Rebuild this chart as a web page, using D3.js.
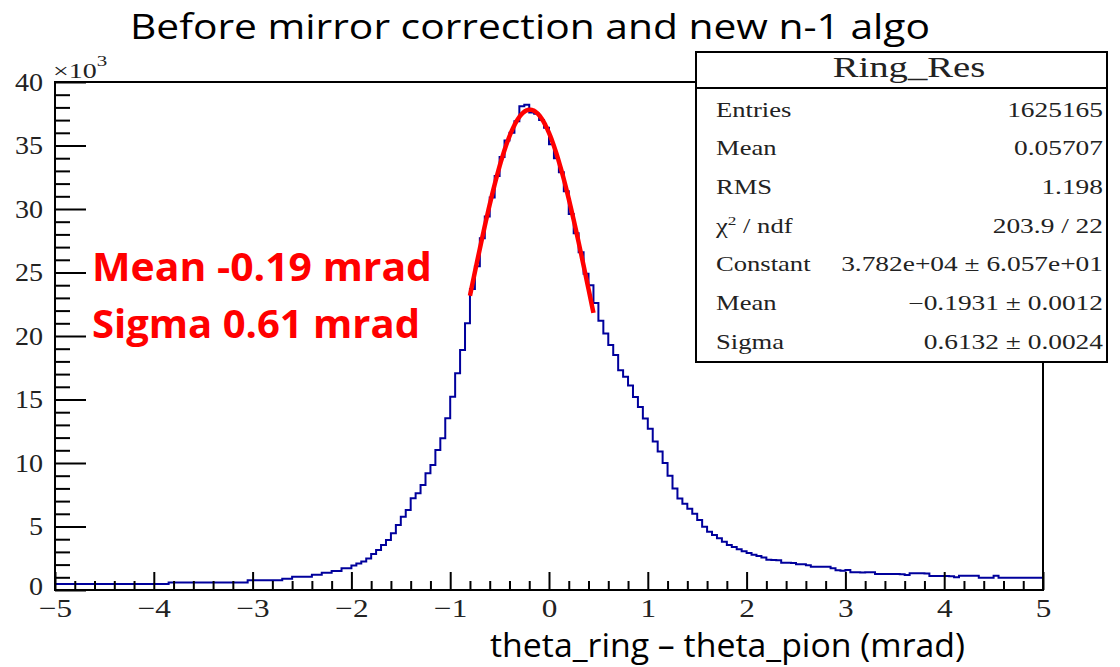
<!DOCTYPE html>
<html>
<head>
<meta charset="utf-8">
<script src="https://cdn.jsdelivr.net/npm/d3@7"></script>
<style>
  html, body { margin: 0; padding: 0; background: #fff; }
  svg { display: block; }
</style>
</head>
<body>
<svg id="chart" width="1120" height="667"></svg>
<script>
// ---- histogram definition: 200 bins from -5 to 5 mrad ----
const xMin = -5, xMax = 5, nBins = 200;

// entries per bin (bin i starts at -5 + 0.05*i)
const counts = [
  470, 470, 470, 470, 470, 470, 470, 470, 470, 470,
  470, 470, 470, 470, 470, 470, 470, 470, 470, 470,
  470, 470, 470, 600, 600, 600, 600, 600, 600, 600,
  600, 600, 600, 600, 600, 600, 600, 600, 600, 760,
  760, 760, 760, 760, 760, 760, 890, 890, 1050, 1050,
  1050, 1050, 1200, 1200, 1360, 1360, 1500, 1500, 1710, 1710,
  1920, 2080, 2240, 2490, 2830, 3150, 3540, 3940, 4460, 5120,
  5770, 6300, 7220, 7610, 8270, 9190, 9840, 11020, 11940, 13520,
  15220, 17060, 18900, 21000, 23700, 25500, 27700, 29400, 30900, 32600,
  34100, 35400, 36000, 36900, 38100, 38200, 37600, 37500, 37000, 36400,
  35100, 34000, 32900, 31400, 29600, 28100, 26600, 24900, 24000, 22600,
  21200, 20200, 19300, 18500, 17300, 16800, 16100, 15200, 14400, 13500,
  12700, 11700, 10900, 10000, 9000, 8000, 7200, 6800, 6400, 6000,
  5510, 4980, 4590, 4330, 4070, 3800, 3540, 3380, 3200, 3050,
  2920, 2780, 2680, 2550, 2380, 2360, 2340, 2150, 2150, 2120,
  2020, 2020, 1950, 1840, 1840, 1840, 1830, 1710, 1550, 1520,
  1570, 1400, 1400, 1380, 1390, 1390, 1260, 1260, 1260, 1260,
  1260, 1250, 1180, 1310, 1310, 1310, 1300, 1100, 1100, 1100,
  1100, 1090, 1000, 1130, 1130, 1130, 1120, 970, 970, 970,
  1130, 970, 970, 970, 970, 970, 970, 970, 970, 970
];

// Gaussian fit result and its range
const fitConstant = 37820;
const fitMean = -0.1931;
const fitSigma = 0.6132;
const fitRange = [-0.8, 0.45];

// axis ticks
const xMajorTicks = [-5, -4, -3, -2, -1, 0, 1, 2, 3, 4, 5];
const yMajorTicks = [0, 5000, 10000, 15000, 20000, 25000, 30000, 35000, 40000];

// texts
const chartTitle = "Before mirror correction and new n-1 algo";
const xAxisTitle = "theta_ring \u2013 theta_pion (mrad)";
const statsTitle = "Ring_Res";
const statsLabels = ["Entries", "Mean", "RMS", "\u03c7\u00b2 / ndf", "Constant", "Mean", "Sigma"];
const statsValues = ["1625165", "0.05707", "1.198", "203.9 / 22",
  "3.782e+04 \u00b1 6.057e+01", "\u22120.1931 \u00b1 0.0012", "0.6132 \u00b1 0.0024"];
const fitNotes = ["Mean -0.19 mrad", "Sigma 0.61 mrad"];

// ---- drawing ----
const svg = d3.select("#chart");
const frame = { left: 55, right: 1043, top: 82, bottom: 590 };

const x = d3.scaleLinear().domain([xMin, xMax]).range([frame.left, frame.right]);
const y = d3.scaleLinear().domain([0, 40000]).range([frame.bottom, frame.top]);

const serif = "'Liberation Serif', 'DejaVu Serif', serif";
const sans = "'Open Sans', 'Noto Sans', 'Liberation Sans', sans-serif";
const wide = 1.33;   // horizontal stretch of the canvas lettering

// histogram as a step outline
const binW = (xMax - xMin) / nBins;
const edges = d3.range(nBins + 1).map(i => xMin + i * binW);
const stepPts = counts.map((c, i) => [edges[i], c]);
stepPts.push([edges[nBins], counts[nBins - 1]]);

svg.append("path")
  .attr("d", d3.line().x(d => x(d[0])).y(d => y(d[1])).curve(d3.curveStepAfter)(stepPts))
  .attr("fill", "none")
  .attr("stroke", "#00009c")
  .attr("stroke-width", 2);

// fitted Gaussian over the fit range
const gauss = v => fitConstant * Math.exp(-0.5 * Math.pow((v - fitMean) / fitSigma, 2));
const fitXs = d3.range(fitRange[0], fitRange[1] + 1e-9, 0.0125);
svg.append("path")
  .attr("d", d3.line().x(v => x(v)).y(v => y(gauss(v)))(fitXs))
  .attr("fill", "none")
  .attr("stroke", "#ff0000")
  .attr("stroke-width", 4.5)
  .attr("stroke-linejoin", "round");

// axes: ticks point into the frame
const fmtSigned = d => d < 0 ? "\u2212" + Math.abs(d) : String(d);
const xMinorTicks = d3.range(51).map(i => xMin + i * 0.2)
  .filter(v => Math.abs(v - Math.round(v)) > 1e-6);
const yMinorTicks = d3.range(0, 40001, 1000).filter(v => v % 5000 !== 0);

function styleAxis(g) {
  g.select(".domain").remove();
  g.attr("font-family", serif).attr("font-size", 26);
  g.selectAll("line").attr("stroke", "#000").attr("stroke-width", 2);
  g.selectAll("text").attr("fill", "#222");
}

svg.append("g")
  .attr("transform", `translate(0,${frame.bottom})`)
  .call(d3.axisBottom(x).tickValues(xMinorTicks).tickSize(-9).tickFormat(""))
  .call(styleAxis);
const gxMajor = svg.append("g")
  .attr("transform", `translate(0,${frame.bottom})`)
  .call(d3.axisBottom(x).tickValues(xMajorTicks).tickSize(-18).tickPadding(9).tickFormat(fmtSigned))
  .call(styleAxis);
// the canvas lettering is slightly wider than the font
gxMajor.selectAll(".tick text").attr("transform", "scale(1.2,1)");

svg.append("g")
  .attr("transform", `translate(${frame.left},0)`)
  .call(d3.axisLeft(y).tickValues(yMinorTicks).tickSize(-15).tickFormat(""))
  .call(styleAxis);
const gyMajor = svg.append("g")
  .attr("transform", `translate(${frame.left},0)`)
  .call(d3.axisLeft(y).tickValues(yMajorTicks).tickSize(-31).tickPadding(11).tickFormat(d => d / 1000))
  .call(styleAxis);
gyMajor.selectAll(".tick text")
  .attr("transform", d => d === 0 ? "translate(0,-4) scale(1.08,1)" : "scale(1.08,1)");

// frame
svg.append("rect")
  .attr("x", frame.left).attr("y", frame.top)
  .attr("width", frame.right - frame.left).attr("height", frame.bottom - frame.top)
  .attr("fill", "none").attr("stroke", "#000").attr("stroke-width", 2);

// exponent label of the y axis
const expo = svg.append("text")
  .attr("transform", "translate(53,78) scale(1.4,1)")
  .attr("font-family", serif).attr("font-size", 20).attr("fill", "#222");
expo.append("tspan").text("\u00d710");
expo.append("tspan").attr("dy", -12).attr("font-size", 15).text("3");

// statistics box
const box = { x: 696, y: 52, w: 411, h: 310, head: 36 };
const sb = svg.append("g");
sb.append("rect")
  .attr("x", box.x).attr("y", box.y).attr("width", box.w).attr("height", box.h)
  .attr("fill", "#fff").attr("stroke", "#000").attr("stroke-width", 2);
sb.append("line")
  .attr("x1", box.x).attr("x2", box.x + box.w)
  .attr("y1", box.y + box.head).attr("y2", box.y + box.head)
  .attr("stroke", "#000").attr("stroke-width", 2);
sb.append("text")
  .attr("transform", `translate(909,77) scale(1.29,1)`)
  .attr("text-anchor", "middle")
  .attr("font-family", serif).attr("font-size", 30).attr("fill", "#222")
  .text(statsTitle);

const rowY = d3.scaleLinear().domain([0, statsLabels.length - 1]).range([116.5, 348.5]);
statsLabels.forEach((lab, i) => {
  const t = sb.append("text")
    .attr("transform", `translate(716,${rowY(i)}) scale(${wide},1)`)
    .attr("font-family", serif).attr("font-size", 20).attr("fill", "#222");
  if (lab.indexOf("\u00b2") >= 0) {
    t.append("tspan").text("\u03c7");
    t.append("tspan").attr("dy", -8).attr("font-size", 13).text("2");
    t.append("tspan").attr("dy", 8).text(" / ndf");
  } else {
    t.text(lab);
  }
  sb.append("text")
    .attr("transform", `translate(1103,${rowY(i)}) scale(${wide + 0.04},1)`)
    .attr("text-anchor", "end")
    .attr("font-family", serif).attr("font-size", 20).attr("fill", "#222")
    .text(statsValues[i]);
});

// title
svg.append("text")
  .attr("x", 130).attr("y", 39)
  .attr("font-family", sans).attr("font-size", 34).attr("fill", "#000")
  .attr("textLength", 800).attr("lengthAdjust", "spacingAndGlyphs")
  .text(chartTitle);

// x axis title
svg.append("text")
  .attr("x", 490).attr("y", 657)
  .attr("font-family", sans).attr("font-size", 32).attr("fill", "#000")
  .attr("textLength", 475).attr("lengthAdjust", "spacingAndGlyphs")
  .text(xAxisTitle);

// fit summary in red
const noteWidths = [340, 328];
fitNotes.forEach((s, i) => {
  svg.append("text")
    .attr("x", 92).attr("y", 281 + i * 57)
    .attr("font-family", sans).attr("font-size", 40).attr("font-weight", "bold")
    .attr("fill", "#ff0000")
    .attr("textLength", noteWidths[i]).attr("lengthAdjust", "spacingAndGlyphs")
    .text(s);
});
</script>
</body>
</html>
